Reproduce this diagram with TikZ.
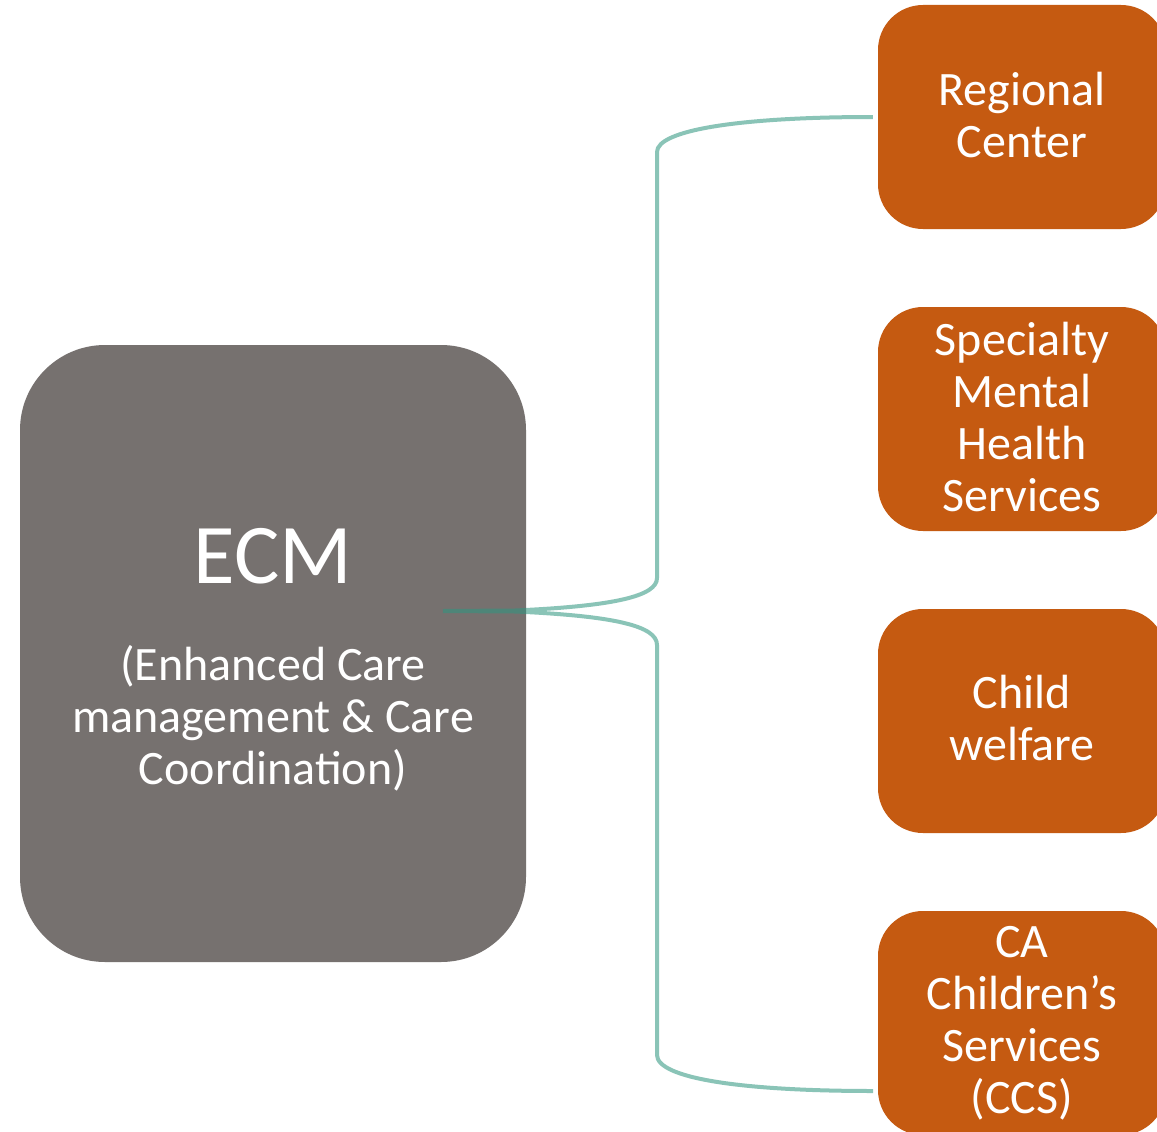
\documentclass[tikz,border=0pt]{standalone}
\usepackage{fontspec}
\setmainfont{Carlito}
\definecolor{ecmgray}{HTML}{76716F}
\definecolor{boxorange}{HTML}{C55A11}
\definecolor{linkteal}{RGB}{48,150,128}
\begin{document}
\begin{tikzpicture}[x=1pt,y=-1pt,
  ecmbox/.style={fill=ecmgray,draw=none,rounded corners=85pt,minimum width=506pt,minimum height=617pt,inner sep=0pt},
  sidebox/.style={fill=boxorange,draw=none,rounded corners=45pt,minimum width=288pt,minimum height=224pt,inner sep=0pt},
  sidetext/.style={text=white,align=center,font=\fontsize{48}{52}\selectfont,inner sep=0pt},
  link/.style={draw=linkteal,line width=4pt,opacity=0.56}]
\useasboundingbox (0,0) rectangle (1157,1132);
\clip (0,0) rectangle (1157,1132);
\fill[white] (0,0) rectangle (1157,1132);
% ECM box
\node[ecmbox] (ecm) at (273,653.5) {};
\node[text=white,font=\fontsize{85}{90}\selectfont,inner sep=0pt] (ecmtitle) at (273,556) {ECM};
\node[sidetext] (ecmsub) at (273,718) {(Enhanced Care\\management \& Care\\Coordination)};
% side boxes
\node[sidebox] (rc) at (1022,117) {};
\node[sidetext] (rct) at (1022,115) {Regional\\Center};
\node[sidebox] (smh) at (1022,419) {};
\node[sidetext] (smht) at (1022,417) {Specialty\\Mental\\Health\\Services};
\node[sidebox] (cw) at (1022,721) {};
\node[sidetext] (cwt) at (1022,718) {Child\\welfare};
\node[sidebox] (ccs) at (1022,1023) {};
\node[sidetext] (ccst) at (1022,1023) {CA\\Children’s\\Services\\(CCS)};
% connector
\coordinate (s) at (443,611);
\coordinate (t1) at ([xshift=-5pt]rc.west);
\coordinate (t4) at (873,1091);
\draw[link] (s) -- (515,610.5) .. controls (615,606) and (657,596) .. (657,578) -- (657,152)
  .. controls (657,130) and (740,117) .. (t1)
  (s) -- (515,611.5) .. controls (615,616) and (657,626) .. (657,645) -- (657,1055)
  .. controls (657,1078) and (740,1091) .. (t4);
\end{tikzpicture}
\end{document}
